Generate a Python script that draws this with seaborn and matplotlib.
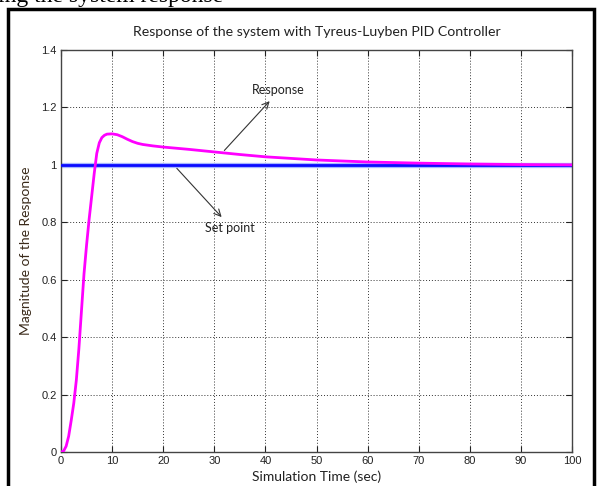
import numpy as np
import pandas as pd
import matplotlib
matplotlib.use("Agg")
import matplotlib.pyplot as plt
from matplotlib.patches import Rectangle
import seaborn as sns

# ---- data ----
time_s = [0, 0.5, 1.0, 1.5, 2.0, 2.5, 3.0, 3.5, 4.0, 4.5, 5.0, 5.5, 6.0, 6.5, 7.0, 7.5,
          8.0, 8.5, 9, 10, 11, 12, 13, 14, 15, 16, 18, 20, 25, 30, 35, 40, 50, 60, 70, 80, 90, 100]
response = [0, 0.003, 0.02, 0.055, 0.11, 0.17, 0.25, 0.36, 0.49, 0.62, 0.72, 0.81, 0.89, 0.97,
            1.04, 1.077, 1.095, 1.103, 1.107, 1.108, 1.105, 1.098, 1.089, 1.081, 1.075, 1.071,
            1.066, 1.062, 1.054, 1.045, 1.036, 1.028, 1.017, 1.010, 1.006, 1.003, 1.001, 1.0]
setpoint_t = [0, 100]
setpoint_v = [1.0, 1.0]
x_ticks = [0, 10, 20, 30, 40, 50, 60, 70, 80, 90, 100]
y_ticks = [0, 0.2, 0.4, 0.6, 0.8, 1.0, 1.2, 1.4]
y_tick_labels = ["0", "0.2", "0.4", "0.6", "0.8", "1", "1.2", "1.4"]

title = "Response of the system with Tyreus-Luyben PID Controller"
xlabel = "Simulation Time (sec)"
ylabel = "Magnitude of the Response"

df_resp = pd.DataFrame({"t": time_s, "y": response})
df_sp = pd.DataFrame({"t": setpoint_t, "y": setpoint_v})

sns.set_theme(style="white")
plt.rcParams["font.family"] = ["Liberation Sans", "DejaVu Sans"]

W, H = 601, 486
fig = plt.figure(figsize=(W / 100, H / 100), dpi=100)
fig.patch.set_facecolor("white")

ax = fig.add_axes([61 / W, 1 - 452 / H, (572 - 61) / W, (452 - 50) / H])

# setpoint (blue with light halo)
ax.plot(setpoint_t, setpoint_v, color="#a8b8ff", lw=3.8, solid_capstyle="butt", zorder=2)
sns.lineplot(data=df_sp, x="t", y="y", ax=ax, color="#0a0aff", lw=2.0, zorder=3)
sns.lineplot(data=df_resp, x="t", y="y", ax=ax, color="#ff00ff", lw=2.0, zorder=4)

ax.set_xlim(0, 100)
ax.set_ylim(0, 1.4)
ax.set_xticks(x_ticks)
ax.set_xticklabels([str(v) for v in x_ticks])
ax.set_yticks(y_ticks)
ax.set_yticklabels(y_tick_labels)
ax.tick_params(direction="in", length=4, width=0.8, colors="#222222", labelsize=8,
               top=True, right=True, bottom=True, left=True, pad=3)
for s in ax.spines.values():
    s.set_color("#444444")
    s.set_linewidth(1.0)
ax.grid(True, color="#333333", linestyle=(0, (1, 2)), linewidth=0.7)
ax.set_axisbelow(True)

lab_font = ["Lato", "DejaVu Sans"]
ax.set_title(title, fontsize=10.2, family=lab_font, color="#222222", pad=10)
ax.set_xlabel(xlabel, fontsize=10, family=lab_font, color="#222222", labelpad=3)
ax.set_ylabel(ylabel, fontsize=10, family=lab_font, color="#3a2a1a", labelpad=7)

# annotations
ax.annotate("", xy=(41.2, 1.229), xytext=(31.6, 1.043),
            arrowprops=dict(arrowstyle="->", color="#333333", lw=0.8), zorder=6)
ax.text(42.5, 1.261, "Response", fontsize=9, family=lab_font, color="#222222",
        ha="center", va="center")
ax.annotate("", xy=(31.8, 0.811), xytext=(22.3, 0.995),
            arrowprops=dict(arrowstyle="->", color="#333333", lw=0.8), zorder=6)
ax.text(33.1, 0.780, "Set point", fontsize=9, family=lab_font, color="#222222",
        ha="center", va="center")

# outer frame of the figure image
fig.patches.append(Rectangle((7.5 / W, -0.05), (594 - 7.5) / W, 1.05 - 9.5 / H,
                             transform=fig.transFigure, fill=False,
                             edgecolor="black", lw=2.5, zorder=10))
# cut-off text above the frame
fig.text(-2 / W, 1 - 2 / H, "ing the system response", fontsize=17,
         family=["Liberation Serif", "DejaVu Serif"], color="black",
         ha="left", va="baseline")

fig.savefig("out.png", dpi=100)
